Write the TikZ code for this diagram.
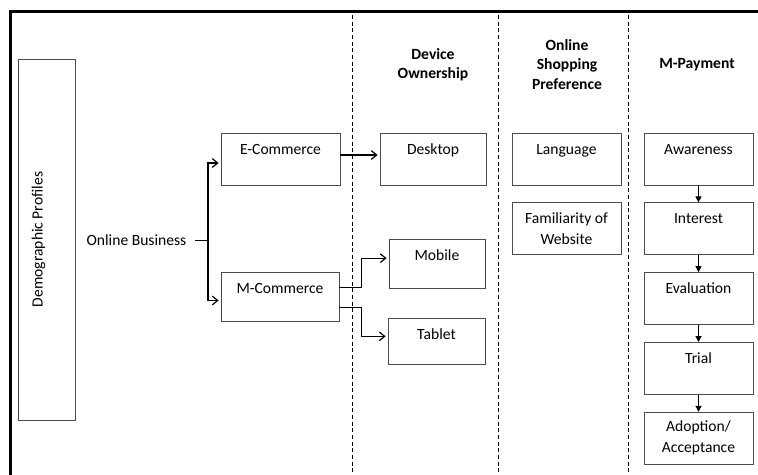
\documentclass[tikz,border=0pt]{standalone}
\usepackage{fontspec}
\setmainfont{Carlito}
\usepackage{tikz}
\usetikzlibrary{positioning, arrows, arrows.meta}
\tikzstyle{block} = [rectangle, draw=black!70, line width=0.6pt, inner ysep=0pt, text height=15.8pt, text depth=23.2pt, text centered]
\tikzstyle{block2} = [rectangle, draw=black!70, line width=0.6pt, inner ysep=0pt, minimum height=39pt, align=center]
\tikzstyle{head} = [align=center, font=\bfseries\fontsize{11.7}{14.6}\selectfont]
\tikzstyle{arrow} = [line width=0.9pt,->,>={Straight Barb[length=4pt,width=6.5pt]}, shorten >=1.5pt]
\tikzstyle{flow} = [line width=0.8pt,-{Triangle[length=4.5pt,width=4.5pt]}]
\tikzstyle{divider} = [line width=0.75pt, dash pattern=on 3pt off 2pt]

\begin{document}
\begin{tikzpicture}[x=0.75pt, y=-0.75pt, font=\fontsize{11.7}{15.6}\selectfont, node distance=12.75pt]
        \useasboundingbox (0,0) rectangle (758,475);
        \clip (0,0) rectangle (758,475);
        \draw [line width=2.25pt] (10,11) rectangle (790,510);
        \draw [divider] (352,15) -- (352,475);
        \draw [divider] (498,15) -- (498,475);
        \draw [divider] (628,15) -- (628,475);

        \node (hdev) [head] at (433,65) {Device\\Ownership};
        \node (hpref) [head] at (567,64.5) {Online\\Shopping\\Preference};
        \node (hpay) [head] at (697,65) {M-Payment};

        \node (demo) [block, rotate=90, minimum width=270.75pt, text height=18.5pt, text depth=24.25pt] at (46.5,239.5) {Demographic Profiles};
        \node (ob) [inner xsep=6pt] at (136.5,240) {Online Business};
        \coordinate (split) at (208,240);
        \node (ecom) [block, minimum width=89.25pt] at (280.5,159) {E-Commerce};
        \node (mcom) [block, minimum width=88.5pt, text depth=21pt] at (280,296.5) {M-Commerce};

        \node (desk) [block, minimum width=79.5pt] at (433,159) {Desktop};
        \node (mob) [block, minimum width=72pt, text depth=21pt] at (437,263.5) {Mobile};
        \node (tab) [block, minimum width=72.75pt, text depth=18.7pt] at (436.5,341) {Tablet};

        \node (lang) [block, minimum width=81.75pt] at (566.5,159) {Language};
        \node (fam) [block2, minimum width=81.75pt, below=of lang] {Familiarity of\\Website};

        \node (aware) [block, minimum width=81.75pt] at (698.5,159) {Awareness};
        \node (inter) [block, minimum width=81.75pt, below=of aware] {Interest};
        \node (eval) [block, minimum width=81.75pt, below=of inter] {Evaluation};
        \node (trial) [block, minimum width=81.75pt, below=of eval] {Trial};
        \node (adopt) [block2, minimum width=81.75pt, below=of trial] {Adoption/\\Acceptance};

        \draw (ob) -- (split);
        \draw [arrow] (split) |- ([yshift=-3pt]ecom.west);
        \draw [arrow] (split) |- ([yshift=-3pt]mcom.west);
        \draw [arrow] ([yshift=3pt]ecom.east) -- ([yshift=3pt]desk.west);
        \draw [arrow] ([yshift=7pt]mcom.east) -- ++(16.5pt,0) |- ([yshift=4pt]mob.west);
        \draw [arrow] ([yshift=-8pt]mcom.east) -- ++(16.5pt,0) |- ([yshift=3.5pt]tab.west);
        \draw [flow] (aware) -- (inter);
        \draw [flow] (inter) -- (eval);
        \draw [flow] (eval) -- (trial);
        \draw [flow] (trial) -- (adopt);
    \end{tikzpicture}
\end{document}
